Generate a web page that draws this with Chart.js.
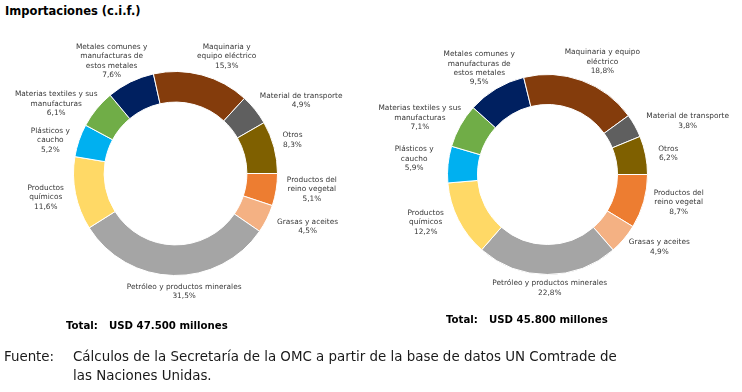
<!DOCTYPE html>
<html>
<head>
<meta charset="utf-8">
<script src="https://cdn.jsdelivr.net/npm/chart.js@4.4.1/dist/chart.umd.min.js"></script>
<style>
    html, body { margin: 0; padding: 0; background: #ffffff; }
    #page { position: relative; width: 742px; height: 392px; overflow: hidden; }
    canvas { position: absolute; top: 0; }
    .title { position: absolute; left: 5px; top: 4px; font: bold 11.5px "DejaVu Sans"; color: #000; white-space: nowrap; }
    .total { position: absolute; font: bold 10.2px "DejaVu Sans"; color: #000; white-space: nowrap; }
    .total span { position: absolute; top: 0; }
    .source { position: absolute; left: 4px; font: 14.9px "DejaVu Sans Condensed"; color: #1a1a1a; white-space: nowrap; }
</style>
</head>
<body>
<div id="page">
    <div class="title">Importaciones (c.i.f.)</div>
    <canvas id="leftChart" width="371" height="392" style="left:0"></canvas>
    <canvas id="rightChart" width="371" height="392" style="left:371px"></canvas>
    <div class="total" style="left:66px; top:320px"><span style="left:0">Total:</span><span style="left:43px">USD 47.500 millones</span></div>
    <div class="total" style="left:446px; top:314px"><span style="left:0">Total:</span><span style="left:43px">USD 45.800 millones</span></div>
    <div class="source" style="top:347px">Fuente:</div>
    <div class="source" style="left:73px; top:347px">Cálculos de la Secretaría de la OMC a partir de la base de datos UN Comtrade de</div>
    <div class="source" style="left:73px; top:366px">las Naciones Unidas.</div>
</div>
<script>
// categories, in drawing order (first slice starts at 3 o'clock)
const CATEGORIES = [
    'Productos del reino vegetal',
    'Grasas y aceites',
    'Petróleo y productos minerales',
    'Productos químicos',
    'Plásticos y caucho',
    'Materias textiles y sus manufacturas',
    'Metales comunes y manufacturas de estos metales',
    'Maquinaria y equipo eléctrico',
    'Material de transporte',
    'Otros'
];
const LEFT_VALUES = [5.1, 4.5, 31.5, 11.6, 5.2, 6.1, 7.6, 15.3, 4.9, 8.3];
const RIGHT_VALUES = [8.7, 4.9, 22.8, 12.2, 5.9, 7.1, 9.5, 18.8, 3.8, 6.2];

// label line breaks as they appear in each chart
const LEFT_LABEL_LINES = [
    ['Productos del', 'reino vegetal'],
    ['Grasas y aceites'],
    ['Petróleo y productos minerales'],
    ['Productos', 'químicos'],
    ['Plásticos y', 'caucho'],
    ['Materias textiles y sus', 'manufacturas'],
    ['Metales comunes y', 'manufacturas de', 'estos metales'],
    ['Maquinaria y', 'equipo eléctrico'],
    ['Material de transporte'],
    ['Otros']
];
const RIGHT_LABEL_LINES = [
    ['Productos del', 'reino vegetal'],
    ['Grasas y aceites'],
    ['Petróleo y productos minerales'],
    ['Productos', 'químicos'],
    ['Plásticos y', 'caucho'],
    ['Materias textiles y sus', 'manufacturas'],
    ['Metales comunes y', 'manufacturas de', 'estos metales'],
    ['Maquinaria y equipo', 'eléctrico'],
    ['Material de transporte'],
    ['Otros']
];

const SLICE_COLORS = [
    '#ED7D31', '#F4B183', '#A5A5A5', '#FFD966', '#00B0F0',
    '#70AD47', '#002060', '#843C0C', '#5F5F5F', '#7F6000'
];

// small hand nudges of the label boxes (px), like Excel's manual placement
const LEFT_LABEL_NUDGE = [[5, -3.5], [8, 1], [12, 0.5], [-6, 0], [-4.5, 6.5], [-3.5, 7.5], [-0.5, 1.5], [15.5, 1], [9, 0.5], [3, -3]];
const RIGHT_LABEL_NUDGE = [[5, -4.5], [7.5, -2], [2.5, -2], [-11, -6.5], [-8.5, -3.5], [1, 2], [4.5, 1], [5.5, 0], [11.5, 3], [7, 1.5]];

const LABEL_FONT = '7.4px "DejaVu Sans"';
const LABEL_LINE_HEIGHT = 9.4;
const LABEL_GAP = 6;

function formatPercent(v) {
    return v.toFixed(1).replace('.', ',') + '%';
}

const outsideLabels = {
    id: 'outsideLabels',
    afterDraw(chart, args, opts) {
        const ctx = chart.ctx;
        const meta = chart.getDatasetMeta(0);
        const values = chart.data.datasets[0].data;
        ctx.save();
        ctx.font = LABEL_FONT;
        ctx.fillStyle = '#383838';
        ctx.textAlign = 'center';
        ctx.textBaseline = 'middle';
        meta.data.forEach((arc, i) => {
            const p = arc.getProps(['x', 'y', 'startAngle', 'endAngle', 'outerRadius'], true);
            const mid = (p.startAngle + p.endAngle) / 2;
            const lines = opts.lines[i].concat([formatPercent(values[i])]);
            const w = Math.max(...lines.map(l => ctx.measureText(l).width));
            const h = lines.length * LABEL_LINE_HEIGHT;
            const r = p.outerRadius + LABEL_GAP;
            const cx = p.x + Math.cos(mid) * (r + w / 2) + opts.nudge[i][0];
            const cy = p.y + Math.sin(mid) * (r + h / 2) + opts.nudge[i][1];
            lines.forEach((line, k) => {
                ctx.fillText(line, cx, cy - h / 2 + LABEL_LINE_HEIGHT * (k + 0.5));
            });
        });
        ctx.restore();
    }
};

function makeDonut(canvasId, values, lines, nudge, padding) {
    return new Chart(document.getElementById(canvasId), {
        type: 'doughnut',
        data: {
            labels: CATEGORIES,
            datasets: [{
                data: values,
                backgroundColor: SLICE_COLORS,
                borderColor: '#ffffff',
                borderWidth: 1,
                hoverOffset: 0
            }]
        },
        options: {
            responsive: false,
            animation: false,
            cutout: '70%',
            rotation: 90,
            layout: { padding: padding },
            events: [],
            plugins: {
                legend: { display: false },
                tooltip: { enabled: false },
                outsideLabels: { lines: lines, nudge: nudge }
            }
        },
        plugins: [outsideLabels]
    });
}

makeDonut('leftChart', LEFT_VALUES, LEFT_LABEL_LINES, LEFT_LABEL_NUDGE,
    {left: 73, right: 93, top: 71, bottom: 116});
makeDonut('rightChart', RIGHT_VALUES, RIGHT_LABEL_LINES, RIGHT_LABEL_NUDGE,
    {left: 76, right: 94, top: 74, bottom: 117});
</script>
</body>
</html>
